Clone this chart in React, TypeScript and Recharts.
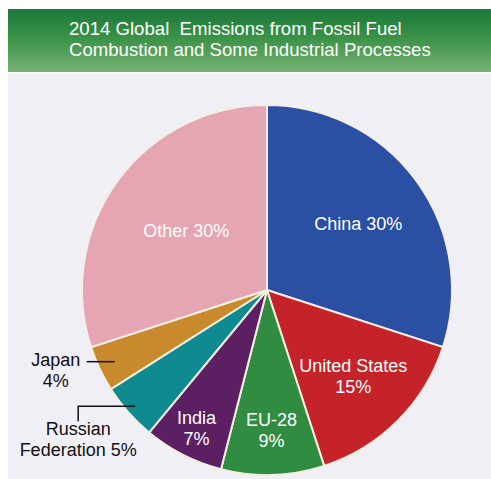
import React from 'react';
import { PieChart, Pie, Cell } from 'recharts';

const titleLines = ['2014 Global  Emissions from Fossil Fuel', 'Combustion and Some Industrial Processes'];
const regions = ['China', 'United States', 'EU-28', 'India', 'Russian Federation', 'Japan', 'Other'];
const shares = [30, 15, 9, 7, 5, 4, 30];
const labelTexts = [
  ['China 30%'],
  ['United States', '15%'],
  ['EU-28', '9%'],
  ['India', '7%'],
  ['Russian', 'Federation 5%'],
  ['Japan', '4%'],
  ['Other 30%'],
];

const colors = ['#2a4fa3', '#c62229', '#2f8c40', '#5b1f62', '#108a91', '#c88a2c', '#e6a5b2'];
// label layout: inside labels use radial factor; outside labels use leader lines
const labelLayout: any[] = [
  { type: 'in', f: 0.61 },
  { type: 'in', f: 0.66 },
  { type: 'in', f: 0.76 },
  { type: 'in', f: 0.84 },
  { type: 'russia', f: 0.95 },
  { type: 'japan', f: 0.91 },
  { type: 'in', f: 0.54 },
];

const data = regions.map((name, i) => ({ name, value: shares[i] }));
const RAD = Math.PI / 180;
const FONT = '"Liberation Sans", Arial, sans-serif';
const LFS = 18;

const renderLabel = (props: any) => {
  const { cx, cy, midAngle, outerRadius, index } = props;
  const lay = labelLayout[index];
  const lines = labelTexts[index];
  const r = outerRadius * lay.f;
  const x = cx + r * Math.cos(-midAngle * RAD);
  const y = cy + r * Math.sin(-midAngle * RAD);
  if (lay.type === 'in') {
    return (
      <g key={`l${index}`}>
        {lines.map((t, i) => (
          <text key={i} x={x} y={y + (i - (lines.length - 1) / 2) * 21.5} fill="#ffffff" fontSize={LFS}
            fontFamily={FONT} textAnchor="middle" dominantBaseline="central">{t}</text>
        ))}
      </g>
    );
  }
  if (lay.type === 'japan') {
    const x2 = x - 28;
    return (
      <g key={`l${index}`}>
        <line x1={x} y1={y} x2={x2} y2={y} stroke="#111" strokeWidth={1.5} />
        {lines.map((t, i) => (
          <text key={i} x={x2 - 31} y={y - 2 + i * 21} fill="#111" fontSize={LFS}
            fontFamily={FONT} textAnchor="middle" dominantBaseline="central">{t}</text>
        ))}
      </g>
    );
  }
  const x2 = x - 57;
  const y2 = y + 15;
  return (
    <g key={`l${index}`}>
      <polyline points={`${x},${y} ${x2},${y} ${x2},${y2}`} fill="none" stroke="#111" strokeWidth={1.5} />
      {lines.map((t, i) => (
        <text key={i} x={x2} y={y2 + 8 + i * 20.5} fill="#111" fontSize={LFS}
          fontFamily={FONT} textAnchor="middle" dominantBaseline="central">{t}</text>
      ))}
    </g>
  );
};

export default function App() {
  return (
    <div style={{ position: 'fixed', left: 0, top: 0, width: 491, height: 479, background: '#ffffff', overflow: 'hidden' }}>
      <div style={{ position: 'absolute', left: 8, top: 74, width: 483, height: 405, background: '#f0eff5' }} />
      <svg width={491} height={80} style={{ position: 'absolute', left: 0, top: 0 }}>
        <defs>
          <linearGradient id="hdr" x1="0" y1="0" x2="0" y2="1">
            <stop offset="0%" stopColor="#1b773b" />
            <stop offset="45%" stopColor="#3a9247" />
            <stop offset="100%" stopColor="#76b272" />
          </linearGradient>
        </defs>
        <rect x={8} y={9} width={483} height={63} fill="url(#hdr)" />
        {titleLines.map((t, i) => (
          <text key={i} x={69} y={35 + i * 20.5} fill="#ffffff" fontSize={18.6} fontFamily={FONT}
            style={{ whiteSpace: 'pre' }}>{t}</text>
        ))}
      </svg>
      <div style={{ position: 'absolute', left: 0, top: 0 }}>
        <PieChart width={491} height={479} margin={{ top: 0, right: 0, bottom: 0, left: 0 }}>
          <Pie data={data} dataKey="value" nameKey="name" cx={267} cy={290} outerRadius={185}
            startAngle={90} endAngle={-270} stroke="#f4efe2" strokeWidth={2}
            label={renderLabel} labelLine={false} isAnimationActive={false}>
            {data.map((d, i) => <Cell key={d.name} fill={colors[i]} />)}
          </Pie>
        </PieChart>
      </div>
    </div>
  );
}
